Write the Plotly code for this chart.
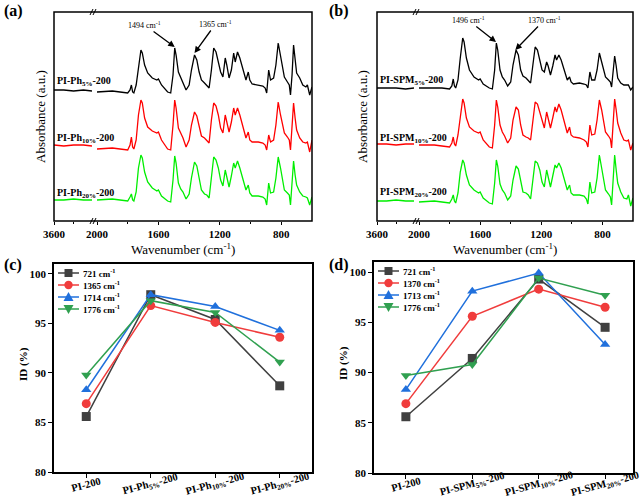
import plotly.graph_objects as go

# ---------------- data ----------------
W_LEFT = [3600, 3200, 2800, 2400, 2050]
W = [2000, 1900, 1850, 1800, 1785, 1776, 1768, 1760, 1745, 1730,
     1714, 1705, 1690, 1670, 1640, 1610, 1600, 1580, 1540, 1520,
     1505, 1494, 1485, 1470, 1455, 1440, 1420, 1400, 1385, 1365,
     1350, 1335, 1320, 1300, 1285, 1270, 1255, 1240, 1225, 1210,
     1195, 1180, 1165, 1155, 1140, 1125, 1110, 1100, 1085, 1070,
     1050, 1030, 1015, 1005, 990, 950, 920, 905, 895, 882,
     870, 850, 835, 820, 805, 790, 780, 760, 748, 740,
     730, 720, 710, 700, 680, 660, 640, 630, 615, 600]

a_black_left = [131, 131, 130, 131, 130]
a_red_left = [76, 75, 76, 76, 75]
a_green_left = [21, 21, 22, 21, 21]
a_black = [129, 130, 129, 128, 131, 136, 129, 128, 136, 156,
           171, 168, 156, 148, 143, 141, 142, 136, 129, 128,
           146, 173, 166, 149, 144, 139, 131, 136, 151, 166,
           161, 149, 141, 138, 136, 133, 151, 173, 169, 159,
           149, 144, 163, 156, 143, 151, 168, 159, 169, 163,
           151, 141, 149, 141, 137, 136, 135, 133, 128, 151,
           141, 143, 156, 178, 166, 151, 144, 139, 136, 126,
           146, 176, 159, 148, 143, 136, 134, 136, 126, 134]
a_red = [72, 73, 72, 71, 76, 84, 74, 72, 81, 106,
         121, 118, 103, 94, 90, 88, 89, 81, 72, 71,
         96, 121, 113, 93, 88, 83, 74, 81, 96, 109,
         105, 93, 85, 83, 81, 78, 101, 118, 115, 106,
         93, 88, 106, 99, 89, 99, 113, 106, 113, 106,
         93, 83, 89, 81, 79, 79, 78, 76, 71, 86,
         79, 81, 96, 119, 106, 93, 88, 84, 81, 71,
         96, 118, 103, 91, 83, 79, 78, 79, 69, 81]
a_green = [21, 22, 21, 20, 24, 27, 21, 20, 29, 53,
           66, 63, 49, 39, 33, 30, 31, 25, 20, 19,
           41, 65, 58, 38, 32, 29, 22, 27, 43, 59,
           55, 41, 31, 27, 26, 23, 46, 64, 61, 53,
           41, 35, 51, 45, 34, 45, 58, 53, 60, 53,
           41, 31, 36, 28, 25, 25, 24, 22, 16, 38,
           28, 29, 43, 64, 53, 39, 31, 28, 26, 16,
           38, 60, 46, 36, 29, 25, 24, 23, 16, 24]

b_black_left = [133, 133, 133, 132, 133]
b_red_left = [77, 77, 76, 77, 77]
b_green_left = [20, 20, 21, 20, 20]
b_black = [133, 133, 133, 132, 135, 142, 135, 133, 141, 163,
           183, 179, 163, 151, 144, 141, 142, 137, 133, 132,
           151, 178, 171, 151, 144, 141, 135, 139, 156, 171,
           166, 151, 145, 143, 141, 138, 156, 174, 171, 161,
           151, 149, 159, 155, 146, 155, 166, 161, 166, 161,
           151, 141, 144, 139, 137, 138, 137, 136, 133, 149,
           141, 141, 151, 168, 159, 149, 144, 141, 139, 134,
           149, 165, 155, 143, 138, 136, 136, 136, 131, 134]
b_red = [76, 76, 75, 74, 78, 84, 77, 75, 86, 106,
         122, 118, 103, 94, 90, 88, 89, 81, 74, 73,
         96, 121, 114, 96, 89, 85, 78, 83, 101, 114,
         111, 96, 86, 84, 83, 81, 103, 119, 117, 109,
         99, 93, 109, 103, 93, 103, 114, 109, 117, 111,
         99, 88, 94, 86, 84, 83, 81, 79, 74, 96,
         86, 87, 101, 121, 111, 96, 89, 85, 82, 73,
         99, 122, 111, 98, 88, 81, 80, 81, 71, 78]
b_green = [19, 20, 19, 18, 22, 26, 20, 18, 28, 49,
           61, 58, 46, 36, 31, 28, 29, 23, 18, 17,
           38, 61, 55, 37, 31, 28, 21, 25, 41, 55,
           52, 39, 29, 28, 26, 22, 44, 60, 58, 51,
           39, 34, 51, 45, 34, 45, 56, 53, 58, 53,
           41, 31, 36, 28, 26, 26, 25, 22, 17, 39,
           28, 29, 43, 66, 53, 39, 31, 27, 24, 16,
           41, 66, 51, 38, 29, 23, 22, 26, 15, 23]

a_labels = ["PI-Ph<sub>5%</sub>-200", "PI-Ph<sub>10%</sub>-200", "PI-Ph<sub>20%</sub>-200"]
b_labels = ["PI-SPM<sub>5%</sub>-200", "PI-SPM<sub>10%</sub>-200", "PI-SPM<sub>20%</sub>-200"]
spec_ticks = [2000, 1600, 1200, 800]

# marked peaks: (wavenumber, absorbance at the peak top)
a_marked = [(1494, 174), (1365, 168)]
b_marked = [(1496, 179), (1370, 171)]

c_categories = ["PI-200", "PI-Ph<sub>5%</sub>-200", "PI-Ph<sub>10%</sub>-200", "PI-Ph<sub>20%</sub>-200"]
c_names = ["721 cm<sup>-1</sup>", "1365 cm<sup>-1</sup>", "1714 cm<sup>-1</sup>", "1776 cm<sup>-1</sup>"]
c_721 = [85.6, 97.9, 95.4, 88.7]
c_1365 = [86.9, 96.8, 95.1, 93.6]
c_1714 = [88.3, 97.9, 96.7, 94.3]
c_1776 = [89.8, 97.3, 96.1, 91.1]

d_categories = ["PI-200", "PI-SPM<sub>5%</sub>-200", "PI-SPM<sub>10%</sub>-200", "PI-SPM<sub>20%</sub>-200"]
d_names = ["721 cm<sup>-1</sup>", "1370 cm<sup>-1</sup>", "1713 cm<sup>-1</sup>", "1776 cm<sup>-1</sup>"]
d_721 = [85.6, 91.4, 99.3, 94.5]
d_1370 = [86.9, 95.6, 98.3, 96.5]
d_1713 = [88.3, 98.1, 99.9, 92.8]
d_1776 = [89.7, 90.8, 99.4, 97.7]

id_ticks = [80, 85, 90, 95, 100]

# ---------------- helpers ----------------
FONT = "Liberation Serif"


def X(p):
    return p / 640.0


def Y(p):
    return 1 - p / 504.0


fig = go.Figure()

spec_colors = ["#000000", "#ff0000", "#00ee00"]

for (xl, xr, ya, lefts, rights) in [
    ("x", "x2", "y", [a_black_left, a_red_left, a_green_left], [a_black, a_red, a_green]),
    ("x3", "x4", "y2", [b_black_left, b_red_left, b_green_left], [b_black, b_red, b_green]),
]:
    for col, lv, rv in zip(spec_colors, lefts, rights):
        fig.add_trace(go.Scatter(x=W_LEFT, y=lv, xaxis=xl, yaxis=ya, mode="lines",
                                 line=dict(color=col, width=1.3), showlegend=False, hoverinfo="skip"))
        fig.add_trace(go.Scatter(x=W, y=rv, xaxis=xr, yaxis=ya, mode="lines",
                                 line=dict(color=col, width=1.3), showlegend=False, hoverinfo="skip"))

line_colors = ["#404040", "#f03c3c", "#2070dc", "#30a050"]
symbols = ["square", "circle", "triangle-up", "triangle-down"]

for (cats, names, vals, xa, ya) in [
    (c_categories, c_names, [c_721, c_1365, c_1714, c_1776], "x5", "y3"),
    (d_categories, d_names, [d_721, d_1370, d_1713, d_1776], "x6", "y4"),
]:
    for col, sym, nm, v in zip(line_colors, symbols, names, vals):
        fig.add_trace(go.Scatter(x=list(range(len(cats))), y=v, xaxis=xa, yaxis=ya, mode="lines+markers",
                                 name=nm, showlegend=False,
                                 line=dict(color=col, width=1.5),
                                 marker=dict(symbol=sym, size=9, color=col)))

tickfont = dict(family=FONT, size=11, color="black", weight="bold")

common_x = dict(showgrid=False, zeroline=False, showline=False, ticks="outside", ticklen=3,
                tickwidth=1.2, tickcolor="black", tickfont=tickfont, tickmode="array", automargin=False)
yspec = dict(range=[0, 209], showticklabels=False, showgrid=False, zeroline=False, showline=False,
             ticks="", automargin=False)
frame = dict(showgrid=False, zeroline=False, showline=True, mirror=True, linecolor="black",
             linewidth=1.5, ticks="outside", ticklen=4, tickwidth=1.2, tickcolor="black",
             tickfont=tickfont, automargin=False)

fig.update_layout(
    template="none",
    width=640, height=504,
    margin=dict(l=0, r=0, t=0, b=0, autoexpand=False),
    paper_bgcolor="white", plot_bgcolor="white",
    font=dict(family=FONT, color="black"),
    showlegend=False,
    # panel a
    xaxis=dict(domain=[X(54), X(92)], range=[3600, 2050], anchor="y",
               tickvals=[3600], ticktext=["3600"],
               minor=dict(tickvals=[2800], ticks="outside", ticklen=2, tickcolor="black"), **common_x),
    xaxis2=dict(domain=[X(97), X(312)], range=[2000, 600], anchor="y",
                tickvals=spec_ticks, ticktext=[str(t) for t in spec_ticks],
                minor=dict(tickvals=[1800, 1400, 1000], ticks="outside", ticklen=2, tickcolor="black"),
                **common_x),
    yaxis=dict(domain=[Y(221), Y(12)], anchor="x", **yspec),
    # panel b
    xaxis3=dict(domain=[X(377), X(414)], range=[3600, 2050], anchor="y2",
                tickvals=[3600], ticktext=["3600"],
                minor=dict(tickvals=[2800], ticks="outside", ticklen=2, tickcolor="black"), **common_x),
    xaxis4=dict(domain=[X(419), X(633)], range=[2000, 600], anchor="y2",
                tickvals=spec_ticks, ticktext=[str(t) for t in spec_ticks],
                minor=dict(tickvals=[1800, 1400, 1000], ticks="outside", ticklen=2, tickcolor="black"),
                **common_x),
    yaxis2=dict(domain=[Y(221), Y(12)], anchor="x3", **yspec),
    # panel c
    xaxis5=dict(domain=[X(54), X(312)], range=[-0.5, 3.5], anchor="y3", tickmode="array",
                tickvals=[0, 1, 2, 3], showticklabels=False, **frame),
    yaxis3=dict(domain=[Y(472), Y(264)], range=[80, 101], anchor="x5", tickmode="array",
                tickvals=id_ticks, ticktext=[str(t) for t in id_ticks], **frame),
    # panel d
    xaxis6=dict(domain=[X(374), X(633)], range=[-0.48, 3.42], anchor="y4", tickmode="array",
                tickvals=[0, 1, 2, 3], showticklabels=False, **frame),
    yaxis4=dict(domain=[Y(473), Y(262)], range=[80, 101], anchor="x6", tickmode="array",
                tickvals=id_ticks, ticktext=[str(t) for t in id_ticks], **frame),
)

shapes = []
# frames for spectra panels
for (x0, x1) in [(54, 312), (377, 633)]:
    shapes.append(dict(type="rect", xref="paper", yref="paper", x0=X(x0), x1=X(x1), y0=Y(221), y1=Y(12),
                       line=dict(color="black", width=1.5)))
# axis-break marks
for bx in [90, 413]:
    for yy in [12, 221]:
        for off in [0, 3]:
            shapes.append(dict(type="line", xref="paper", yref="paper",
                               x0=X(bx + off), y0=Y(yy + 3), x1=X(bx + off + 3), y1=Y(yy - 3),
                               line=dict(color="black", width=1)))

ann = []


def text(x, y, s, size, bold=False, angle=0, xanchor="center"):
    ann.append(dict(x=X(x), y=Y(y), xref="paper", yref="paper", text=s, showarrow=False,
                    xanchor=xanchor, yanchor="middle", textangle=angle,
                    font=dict(family=FONT, size=size, color="black", weight="bold" if bold else "normal")))


# manual legends (sample line + marker + label)
def legend_entries(x0, ys, names):
    for col, sym, nm, yy in zip(line_colors, symbols, names, ys):
        shapes.append(dict(type="line", xref="paper", yref="paper", x0=X(x0), x1=X(x0 + 21),
                           y0=Y(yy), y1=Y(yy), line=dict(color=col, width=1.5)))
        cx = x0 + 10.5
        r = 4.2
        if sym == "square":
            shapes.append(dict(type="rect", xref="paper", yref="paper", x0=X(cx - 4), x1=X(cx + 4),
                               y0=Y(yy + 4), y1=Y(yy - 4), fillcolor=col, line=dict(width=0)))
        elif sym == "circle":
            shapes.append(dict(type="circle", xref="paper", yref="paper", x0=X(cx - r), x1=X(cx + r),
                               y0=Y(yy + r), y1=Y(yy - r), fillcolor=col, line=dict(width=0)))
        elif sym == "triangle-up":
            shapes.append(dict(type="path", xref="paper", yref="paper",
                               path="M %f,%f L %f,%f L %f,%f Z" % (X(cx - 5), Y(yy + 4), X(cx + 5), Y(yy + 4),
                                                                  X(cx), Y(yy - 5)),
                               fillcolor=col, line=dict(width=0)))
        else:
            shapes.append(dict(type="path", xref="paper", yref="paper",
                               path="M %f,%f L %f,%f L %f,%f Z" % (X(cx - 5), Y(yy - 4), X(cx + 5), Y(yy - 4),
                                                                  X(cx), Y(yy + 5)),
                               fillcolor=col, line=dict(width=0)))
        text(x0 + 23, yy, nm, 9, True, xanchor="left")


legend_entries(58, [273, 285, 297, 309], c_names)
legend_entries(378, [271, 283, 295, 307], d_names)

# panel letters
text(2, 11, "(a)", 16, True, xanchor="left")
text(327, 11, "(b)", 16, True, xanchor="left")
text(2, 265, "(c)", 16, True, xanchor="left")
text(327, 265, "(d)", 16, True, xanchor="left")
# axis titles
text(40, 117, "Absorbance (a.u.)", 13, angle=-90)
text(362, 117, "Absorbance (a.u.)", 13, angle=-90)
text(183, 249, "Wavenumber (cm<sup>-1</sup>)", 13)
text(505, 249, "Wavenumber (cm<sup>-1</sup>)", 13)
text(23, 364, "ID (%)", 11, True, angle=-90)
text(343, 363, "ID (%)", 11, True, angle=-90)
# spectrum labels
for lab, yy in zip(a_labels, [82, 138, 193]):
    text(55, yy, lab, 10, True, xanchor="left")
for lab, yy in zip(b_labels, [81, 138, 192]):
    text(378, yy, lab, 10, True, xanchor="left")

# peak labels with arrows pointing at the marked peaks (text sits at the arrow tail)
for (xa, ya, marks, offsets) in [("x2", "y", a_marked, [(-30, -22), (21, -29)]),
                                 ("x4", "y2", b_marked, [(-28, -22), (29, -30)])]:
    for (wx, wy), (ax, ay) in zip(marks, offsets):
        ann.append(dict(x=wx, y=wy, xref=xa, yref=ya, text="%d cm<sup>-1</sup>" % wx,
                        showarrow=True, ax=ax, ay=ay, arrowhead=2, arrowsize=1, arrowwidth=1.3,
                        arrowcolor="black", standoff=0,
                        font=dict(family=FONT, size=8, color="black")))

# category labels, rotated, centred under each tick
for xa, cats in [("x5", c_categories), ("x6", d_categories)]:
    for i, c in enumerate(cats):
        ann.append(dict(x=i, y=Y(484), xref=xa, yref="paper", text=c, showarrow=False,
                        xanchor="center", yanchor="middle", textangle=-15,
                        font=dict(family=FONT, size=10.5, color="black", weight="bold")))

fig.update_layout(shapes=shapes, annotations=ann)

fig.write_html("out.html", config={"displayModeBar": False},
               post_script="document.body.style.margin='0';document.body.style.padding='0';"
                           "document.body.style.overflow='hidden';")
